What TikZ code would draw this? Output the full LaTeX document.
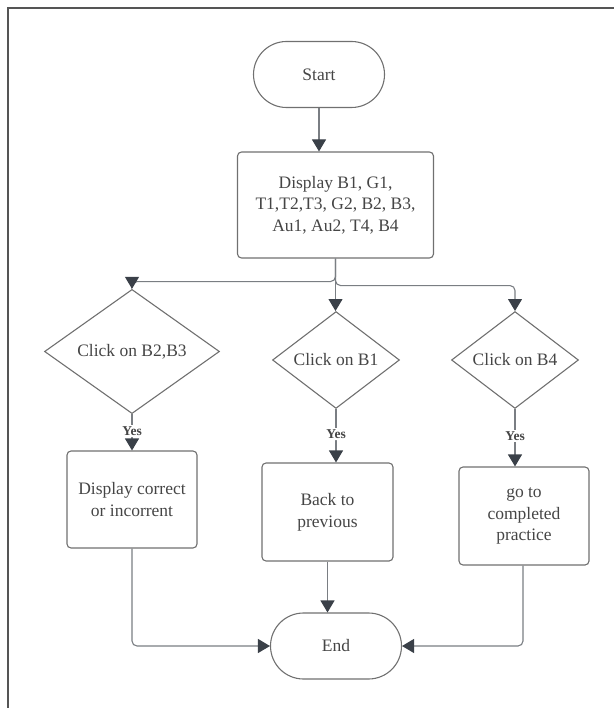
\documentclass[tikz,border=0pt]{standalone}
\usepackage{fontspec}
\setmainfont{Liberation Serif}
\usetikzlibrary{shapes.geometric,arrows.meta}
\definecolor{linec}{HTML}{7A7E83}
\definecolor{shapec}{HTML}{707070}
\definecolor{tipc}{HTML}{3A4048}
\definecolor{textc}{HTML}{454545}
\definecolor{framec}{HTML}{555555}
\tikzset{
  basefont/.style={font=\fontsize{17.5}{21.7}\selectfont, text=textc},
  terminal/.style={basefont, draw=shapec, line width=1.1pt, rectangle,
    rounded corners=33pt, minimum width=131pt, minimum height=66pt, inner sep=0pt},
  process/.style={basefont, draw=shapec, line width=1.1pt, rectangle,
    rounded corners=4pt, align=center, inner sep=0pt},
  decision/.style={basefont, draw=shapec, line width=1.1pt, diamond,
    inner sep=0pt},
  yeslabel/.style={font=\fontsize{13.5}{16}\selectfont\bfseries, text=textc,
    fill=white, inner sep=1.5pt},
  flow/.style={draw=linec, line width=1.1pt, rounded corners=5pt,
    -{Triangle[width=14pt,length=12pt,color=tipc]}},
}
\begin{document}
\begin{tikzpicture}[x=1pt,y=-1pt]
  \useasboundingbox (0,0) rectangle (614,708);
  % page frame
  \draw[framec, line width=1.6pt] (8,708) -- (8,8) -- (614,8);

  % nodes
  \node[terminal] (start) at (319,74.5) {Start};
  \node[process, minimum width=196pt, minimum height=106pt] (disp) at (335.5,205)
    {Display B1, G1,\\T1,T2,T3, G2, B2, B3,\\Au1, Au2, T4, B4};

  \node[decision, minimum width=175pt, minimum height=97pt] (d1) at (132,351.5) {Click on B2,B3};
  \node[decision, minimum width=127pt, minimum height=96pt] (d2) at (336,360) {Click on B1};
  \node[decision, minimum width=127pt, minimum height=96pt] (d3) at (515,360) {Click on B4};

  \node[process, minimum width=130pt, minimum height=97pt] (p1) at (132,499.5)
    {Display correct\\or incorrent};
  \node[process, minimum width=131pt, minimum height=98pt] (p2) at (327.5,512)
    {Back to\\previous};
  \node[process, minimum width=130pt, minimum height=98pt] (p3) at (524,516)
    {go to\\completed\\practice};

  \node[terminal] (end) at (336,646) {End};

  % connectors
  \draw[flow] (start.south) -- (start.south |- disp.north);
  \draw[flow] (disp.south) -- ++(0,23) -| (d1.north);
  \draw[flow] (disp.south) -- (disp.south |- d2.north);
  \draw[flow] (disp.south) -- ++(0,27) -| (d3.north);

  \draw[flow] (d1.south) -- node[yeslabel, pos=0.47] {Yes} (p1.north);
  \draw[flow] (d2.south) -- node[yeslabel, pos=0.47] {Yes} (d2.south |- p2.north);
  \draw[flow] (d3.south) -- node[yeslabel, pos=0.47] {Yes} (d3.south |- p3.north);

  \draw[flow] (p1.south) |- (end.west);
  \draw[flow] (p2.south) -- (p2.south |- end.north);
  \draw[flow] ([xshift=-1pt]p3.south) |- (end.east);
\end{tikzpicture}
\end{document}
